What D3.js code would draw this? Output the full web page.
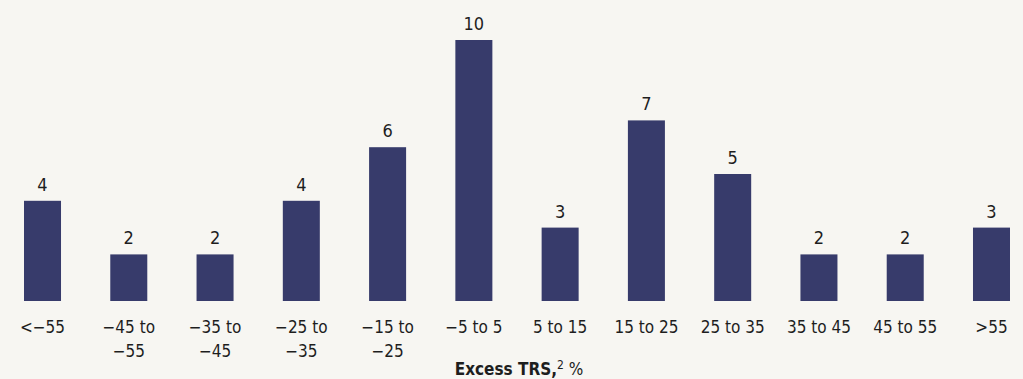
<!DOCTYPE html>
<html>
<head>
<meta charset="utf-8">
<script src="https://cdn.jsdelivr.net/npm/d3@7"></script>
<style>
  body { margin: 0; background: #f7f6f2; }
  svg { display: block; }
  text { font-family: "Liberation Sans Narrow", "DejaVu Sans Condensed", sans-serif; fill: #1e1e1e; }
</style>
</head>
<body>
<div id="chart"></div>
<script>
var categories = ["<\u221255", "\u221245 to\n\u221255", "\u221235 to\n\u221245", "\u221225 to\n\u221235",
  "\u221215 to\n\u221225", "\u22125 to 5", "5 to 15", "15 to 25", "25 to 35", "35 to 45", "45 to 55", ">55"];
var counts = [4, 2, 2, 4, 6, 10, 3, 7, 5, 2, 2, 3];
var axisTitle = "Excess TRS,";

var width = 1023, height = 379;
var baseline = 301;

var svg = d3.select("#chart")
  .append("svg")
  .attr("width", width)
  .attr("height", height);

var x = d3.scaleBand()
  .domain(categories)
  .range([24, 1010])
  .paddingInner(0.571)
  .paddingOuter(0);

var y = d3.scaleLinear()
  .domain([0, 10])
  .range([308, 40]);

svg.append("g")
  .selectAll("rect")
  .data(counts)
  .enter()
  .append("rect")
  .attr("x", function (d, i) { return x(categories[i]); })
  .attr("y", function (d) { return y(d); })
  .attr("width", x.bandwidth())
  .attr("height", function (d) { return baseline - y(d); })
  .style("fill", "#373b6b");

// value labels
svg.append("g")
  .selectAll("text")
  .data(counts)
  .enter()
  .append("text")
  .attr("x", function (d, i) { return x(categories[i]) + x.bandwidth() / 2; })
  .attr("y", function (d) { return y(d) - 10; })
  .attr("text-anchor", "middle")
  .style("font-size", "18px")
  .text(function (d) { return d; });

// category labels
var catLabels = svg.append("g")
  .selectAll("text")
  .data(categories)
  .enter()
  .append("text")
  .attr("x", function (d) { return x(d) + x.bandwidth() / 2; })
  .attr("y", 333)
  .attr("text-anchor", "middle")
  .style("font-size", "17px");

catLabels.selectAll("tspan")
  .data(function (d) { return d.split("\n"); })
  .enter()
  .append("tspan")
  .attr("x", function () { return d3.select(this.parentNode).attr("x"); })
  .attr("dy", function (d, i) { return i === 0 ? 0 : 24; })
  .text(function (d) { return d; });

// axis title
var title = svg.append("text")
  .attr("x", 519)
  .attr("y", 375)
  .attr("text-anchor", "middle")
  .style("font-size", "17px");
title.append("tspan").style("font-weight", "bold").text(axisTitle);
title.append("tspan").attr("dy", -6).style("font-size", "12px").text("2");
title.append("tspan").attr("dy", 6).text(" %");
</script>
</body>
</html>
